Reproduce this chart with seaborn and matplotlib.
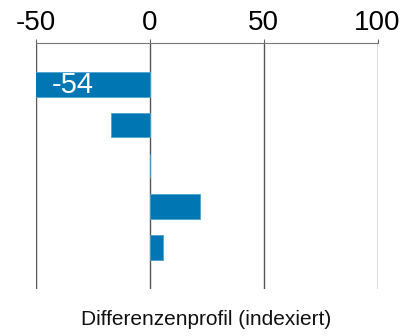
import matplotlib
matplotlib.use("Agg")
import matplotlib.pyplot as plt
import seaborn as sns
import pandas as pd

# Profile differences per item (indexed)
items = ["1", "2", "3", "4", "5"]
values = [-54, -17, 0.4, 22, 6]
labelled = {0: "-54"}
x_ticks = [-50, 0, 50, 100]
x_label = "Differenzenprofil (indexiert)"

sns.set_theme(style="white")
plt.rcParams["font.family"] = ["Liberation Sans", "DejaVu Sans"]

df = pd.DataFrame({"item": items, "value": values})

fig = plt.figure(figsize=(4.11, 3.36), dpi=100)
ax = fig.add_axes([0.0864, 0.140, 0.8321, 0.732])

sns.barplot(data=df, x="value", y="item", orient="h", color="#0077B3",
            width=0.6, saturation=1, ax=ax, linewidth=0.6, edgecolor="#4FA3D1")

ax.set_xlim(-50, 100)
ax.set_ylim(len(items) - 1 + 1.02, -1.02)
ax.set_xticks(x_ticks)
ax.set_xticklabels([str(t) for t in x_ticks])
ax.xaxis.tick_top()
ax.tick_params(axis="x", top=True, bottom=False, length=3, width=0.8,
               color="#666666", pad=2, labelsize=20, labelcolor="black")
ax.set_yticks([])
ax.set_ylabel("")
ax.xaxis.set_label_position("bottom")
ax.set_xlabel(x_label, fontsize=15, labelpad=15, color="#111111")

for t in x_ticks:
    ax.axvline(t, color="#555555", linewidth=1.0, zorder=0)

for s in ["left", "right", "bottom"]:
    ax.spines[s].set_visible(False)
ax.spines["top"].set_color("#777777")
ax.spines["top"].set_linewidth(0.8)

for i, txt in labelled.items():
    ax.annotate(txt, xy=(-50, i), xytext=(12, 0), textcoords="offset points",
                ha="left", va="center", color="white", fontsize=21)

fig.savefig("out.png", dpi=100)
